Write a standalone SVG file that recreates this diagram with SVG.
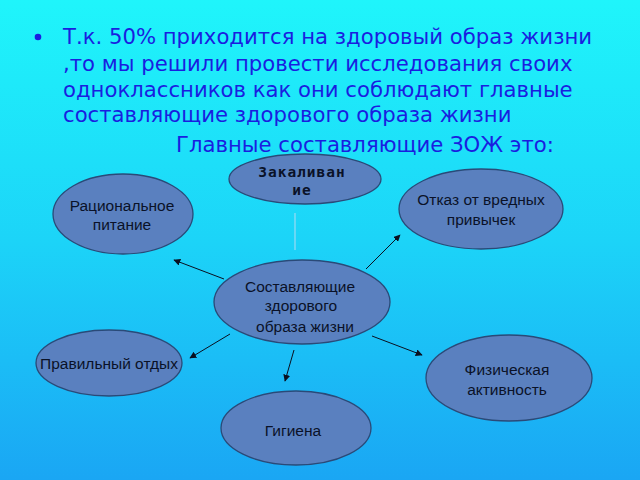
<svg xmlns="http://www.w3.org/2000/svg" width="640" height="480" viewBox="0 0 640 480">
<defs>
<linearGradient id="bg" x1="0" y1="0" x2="0" y2="1">
<stop offset="0" stop-color="#1ff5fb"/>
<stop offset="0.5" stop-color="#1cd4f8"/>
<stop offset="1" stop-color="#1aa6f4"/>
</linearGradient>
<marker id="ah" viewBox="0 0 10 10" refX="9" refY="5" markerWidth="7" markerHeight="7" orient="auto" markerUnits="userSpaceOnUse">
<path d="M0,0 L10,5 L0,10 z" fill="#0a1020"/>
</marker>
</defs>
<style>
.node ellipse{fill:#5a80bf;stroke:#2a4a78;stroke-width:1.3}
.lbl{font-family:"Liberation Sans",Arial,sans-serif;font-size:15.5px;fill:#0a1228;text-anchor:middle}
.mono{font-family:"DejaVu Sans Mono","Liberation Mono",monospace;font-size:14.5px;font-weight:bold;letter-spacing:1px;fill:#0a1228;text-anchor:middle}
.body{font-family:"DejaVu Sans",sans-serif;font-size:21.2px;fill:#1a1ee0}
.conn line{stroke:#0a1020;stroke-width:1}
</style>
<rect width="640" height="480" fill="url(#bg)"/>
<g id="text">
<circle cx="38" cy="37" r="3.3" fill="#1a1ee0"/>
<text class="body" x="63" y="44">Т.к. 50% приходится на здоровый образ жизни</text>
<text class="body" x="63" y="71">,то мы решили провести исследования своих</text>
<text class="body" x="63" y="97">одноклассников как они соблюдают главные</text>
<text class="body" x="63" y="122">составляющие здорового образа жизни</text>
<text class="body" x="176" y="152">Главные составляющие ЗОЖ это:</text>
</g>
<g id="connectors" class="conn">
<line x1="295" y1="250" x2="295" y2="213" style="stroke:#b4dcf2;stroke-width:1"/>
<line x1="224" y1="279" x2="174" y2="260" marker-end="url(#ah)"/>
<line x1="366" y1="269" x2="400" y2="235" marker-end="url(#ah)"/>
<line x1="230" y1="334" x2="190" y2="358" marker-end="url(#ah)"/>
<line x1="294" y1="350" x2="285" y2="381" marker-end="url(#ah)"/>
<line x1="372" y1="336" x2="422" y2="355" marker-end="url(#ah)"/>
</g>
<g id="n-zakalivanie" class="node">
<ellipse cx="305" cy="179" rx="76" ry="25"/>
<text class="mono" x="302" y="177">Закаливан</text>
<text class="mono" x="302" y="195">ие</text>
</g>
<g id="n-racionalnoe" class="node">
<ellipse cx="123" cy="214" rx="70" ry="40"/>
<text class="lbl" x="122" y="211">Рациональное</text>
<text class="lbl" x="122" y="230">питание</text>
</g>
<g id="n-otkaz" class="node">
<ellipse cx="481" cy="209" rx="82" ry="40"/>
<text class="lbl" x="481" y="205">Отказ от вредных</text>
<text class="lbl" x="481" y="225">привычек</text>
</g>
<g id="n-center" class="node">
<ellipse cx="302" cy="302" rx="88" ry="42"/>
<text class="lbl" x="300" y="292">Составляющие</text>
<text class="lbl" x="301" y="311">здорового</text>
<text class="lbl" x="305" y="332">образа жизни</text>
</g>
<g id="n-otdyh" class="node">
<ellipse cx="109" cy="363" rx="73" ry="33"/>
<text class="lbl" x="109" y="369">Правильный отдых</text>
</g>
<g id="n-fiz" class="node">
<ellipse cx="509" cy="378" rx="83" ry="43"/>
<text class="lbl" x="507" y="375">Физическая</text>
<text class="lbl" x="507" y="395">активность</text>
</g>
<g id="n-gigiena" class="node">
<ellipse cx="296" cy="428" rx="75" ry="37"/>
<text class="lbl" x="293" y="436">Гигиена</text>
</g>
</svg>
